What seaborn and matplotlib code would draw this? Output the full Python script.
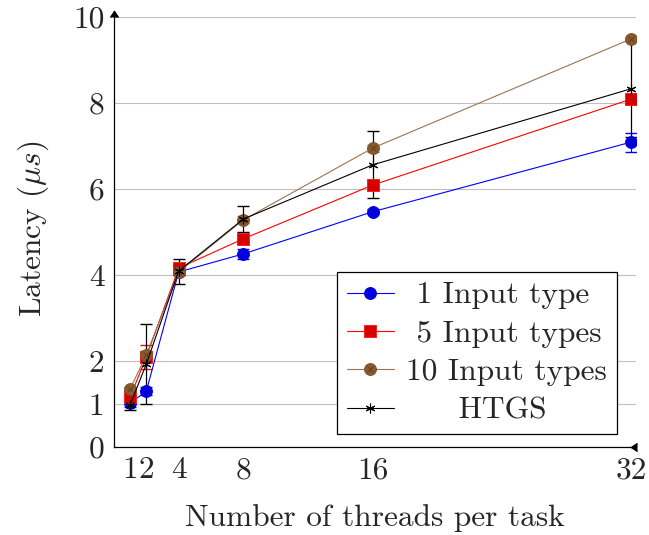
import numpy as np
import matplotlib
matplotlib.use("Agg")
import matplotlib.pyplot as plt
import seaborn as sns
from matplotlib.legend_handler import HandlerTuple

sns.set_style("white")
plt.rcParams['font.family'] = 'serif'
plt.rcParams['font.serif'] = ['cmr10']
plt.rcParams['mathtext.fontset'] = 'cm'
plt.rcParams['axes.unicode_minus'] = False
plt.rcParams['axes.formatter.use_mathtext'] = True

# 数据
threads = [1, 2, 4, 8, 16, 32]
lat_1 = [1.02, 1.30, 4.07, 4.49, 5.47, 7.09]
err_1 = [0.08, 0.10, 0.08, 0.11, 0.06, 0.22]
lat_5 = [1.16, 2.10, 4.16, 4.84, 6.09, 8.09]
err_5 = [0.10, 0.28, 0.08, 0.10, 0.10, 0.12]
lat_10 = [1.35, 2.14, 4.07, 5.28, 6.95, 9.49]
err_10 = [0.05, 0.10, 0.06, 0.08, 0.08, 0.05]
lat_htgs = [0.98, 1.93, 4.09, 5.30, 6.56, 8.33]
err_htgs = [0.13, 0.94, 0.29, 0.31, 0.78, 1.12]

labels = ['1 Input type', '5 Input types', '10 Input types', 'HTGS']
yticks = [0, 1, 2, 4, 6, 8, 10]

blue = '#0000ff'
red = '#ff0000'
brown = '#9a7450'
brown_m = '#8b5a2b'
FS = 22.6

fig = plt.figure(figsize=(6.49, 5.35), dpi=100)
ax = fig.add_axes([114 / 649, 1 - 447 / 535, 522 / 649, 436.5 / 535])

# 误差线
ax.errorbar(threads, lat_1, yerr=err_1, fmt='none', ecolor=blue, elinewidth=0.8, capsize=4, zorder=2)
ax.errorbar(threads, lat_5, yerr=err_5, fmt='none', ecolor=red, elinewidth=0.8, capsize=4, zorder=2)
ax.errorbar(threads, lat_10, yerr=err_10, fmt='none', ecolor=brown, elinewidth=0.8, capsize=4, zorder=2)
ax.errorbar(threads, lat_htgs, yerr=err_htgs, fmt='none', ecolor='black', elinewidth=0.9, capsize=4, zorder=2)

# 折线
sns.lineplot(x=threads, y=lat_1, ax=ax, color=blue, lw=0.8, marker='o', ms=8.5,
             markerfacecolor='#0000dd', markeredgecolor='#0000dd', zorder=3)
sns.lineplot(x=threads, y=lat_5, ax=ax, color=red, lw=0.8, marker='s', ms=8,
             markerfacecolor='#d40000', markeredgecolor='#ff2020', zorder=3)
sns.lineplot(x=threads, y=lat_10, ax=ax, color=brown, lw=0.8, marker='o', ms=8.5,
             markerfacecolor=brown_m, markeredgecolor='#7a5030', zorder=4)
sns.lineplot(x=threads, y=lat_10, ax=ax, lw=0, marker='x', ms=5, mew=0.6,
             markerfacecolor='#5a3a20', markeredgecolor='#5a3a20', zorder=5)
sns.lineplot(x=threads, y=lat_htgs, ax=ax, color='black', lw=0.8, marker=(6, 2, 0), ms=7, mew=0.8,
             markeredgecolor='black', zorder=6)

lines = ax.get_lines()
series_lines = [l for l in lines if len(l.get_xdata()) == len(threads)]
h1, h5, h10, h10x, hh = series_lines[-5:]

ax.set_xlim(0, 32.3)
ax.set_ylim(0, 10.15)
ax.set_xticks(threads)
ax.set_xticklabels(['1', '2', '4', '8', '16', '32'])
ax.set_yticks(yticks)
ax.set_yticklabels([str(v) for v in yticks])
ax.tick_params(axis='both', which='major', labelsize=FS, direction='inout', length=6,
               width=0.6, color='#808080', pad=4)
ax.yaxis.grid(True, color='#c0c0c0', lw=0.8)
ax.set_axisbelow(True)

for s in ['top', 'right']:
    ax.spines[s].set_visible(False)
for s in ['left', 'bottom']:
    ax.spines[s].set_color('black')
    ax.spines[s].set_linewidth(0.9)

# 坐标轴箭头
ax.plot(32, 0, marker=4, color='black', ms=6, clip_on=False, zorder=7)
ax.plot(0, 1, marker=6, color='black', ms=6, transform=ax.transAxes, clip_on=False, zorder=7)

ax.set_xlabel('Number of threads per task', fontsize=FS, labelpad=14)
ax.set_ylabel(r'Latency ($\mu s$)', fontsize=FS, labelpad=16)

# 图例文字居中（用空格补齐）
pads = [1, 1, 0, 5]
leg_labels = [' ' * p + t for p, t in zip(pads, labels)]
leg = ax.legend([h1, h5, (h10, h10x), hh], leg_labels,
                handler_map={tuple: HandlerTuple(ndivide=1, pad=0)},
                loc='lower right', bbox_to_anchor=(0.963, 0.03), borderaxespad=0,
                fontsize=FS, frameon=True, fancybox=False, framealpha=1,
                edgecolor='black', handlelength=1.5, labelspacing=0.33,
                handletextpad=0.4, borderpad=0.3)
leg.get_frame().set_linewidth(0.9)

fig.savefig('out.png', dpi=100)
